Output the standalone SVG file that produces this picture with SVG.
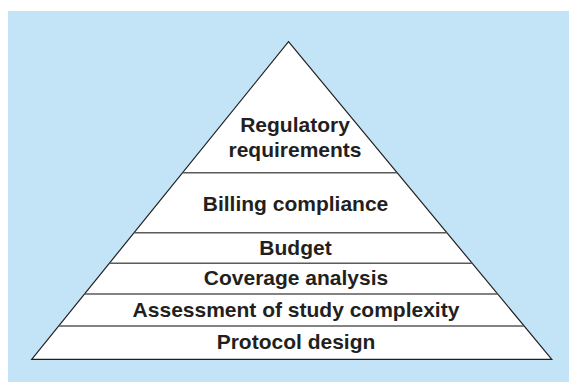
<svg xmlns="http://www.w3.org/2000/svg" width="569" height="382" viewBox="0 0 569 382">
<style>
.t{font-family:"Liberation Sans",Arial,sans-serif;font-weight:bold;font-size:21px;fill:#231f20;text-anchor:middle}
.sep{stroke:#5a5a5a;stroke-width:1.6}
</style>
<rect x="0" y="0" width="569" height="382" fill="#ffffff"/>
<rect x="8" y="11" width="561" height="371" fill="#c2e4f6"/>
<g id="pyramid">
<polygon points="288.5,41.7 551.8,359.3 31.7,359.3" fill="#ffffff" stroke="#231f20" stroke-width="1.2" stroke-linejoin="miter"/>
</g>
<g id="separators">
<line class="sep" x1="182.6" y1="172.7" x2="397.1" y2="172.7"/>
<line class="sep" x1="134.1" y1="232.7" x2="446.8" y2="232.7"/>
<line class="sep" x1="109.3" y1="263.3" x2="472.2" y2="263.3"/>
<line class="sep" x1="84.5" y1="294" x2="497.7" y2="294"/>
<line class="sep" x1="58.6" y1="326" x2="524.2" y2="326"/>
</g>
<g id="regulatory"><text class="t" x="295" y="131.5">Regulatory</text><text class="t" x="295" y="156.5">requirements</text></g>
<g id="billing"><text class="t" x="295.5" y="210.7">Billing compliance</text></g>
<g id="budget"><text class="t" x="295.5" y="254.5">Budget</text></g>
<g id="coverage"><text class="t" x="296" y="285">Coverage analysis</text></g>
<g id="assessment"><text class="t" x="296" y="316.7">Assessment of study complexity</text></g>
<g id="protocol"><text class="t" x="296" y="349">Protocol design</text></g>
</svg>
